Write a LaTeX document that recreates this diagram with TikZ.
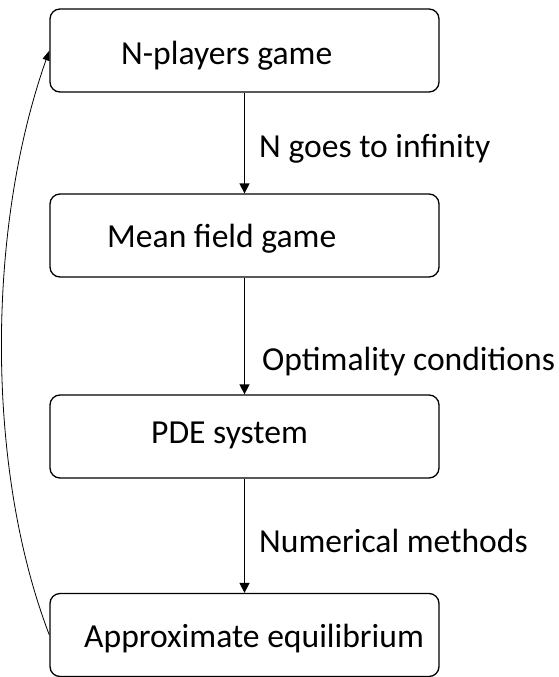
\documentclass[tikz,border=0pt]{standalone}
\usepackage{fontspec}
\setmainfont{Carlito}
\usetikzlibrary{arrows.meta}
\begin{document}
\begin{tikzpicture}[x=1pt,y=-1pt,
  box/.style={draw=black, line width=1.3pt, rounded corners=10pt, minimum width=389pt, minimum height=83pt, inner sep=0pt},
  txt/.style={anchor=base west, inner sep=0pt, font=\fontsize{33.6}{40}\selectfont},
  flow/.style={line width=1.5pt, -{Triangle[length=10pt,width=10pt]}},
  back/.style={line width=0.8pt, -{Triangle[length=10pt,width=7pt]}}]
\useasboundingbox (0,0) rectangle (559,677);
\node[box] (b1) at (244.5,50.5) {};
\node[box] (b2) at (244.5,235.5) {};
\node[box] (b3) at (244.5,436.5) {};
\node[box] (b4) at (244.5,635) {};
\node[txt] (t1) at (121,65) {N-players game};
\node[txt] (t2) at (107,247) {Mean field game};
\node[txt] (t3) at (151,443) {PDE system};
\node[txt] (t4) at (84,647) {Approximate equilibrium};
\draw[flow] (b1.south) -- (b2.north);
\draw[flow] (b2.south) -- (b3.north);
\draw[flow] (b3.south) -- (b4.north);
\node[txt] (l1) at (259,157) {N goes to infinity};
\node[txt] (l2) at (262,370) {Optimality conditions};
\node[txt] (l3) at (259,552) {Numerical methods};
\draw[back] (b4.west) .. controls (-14,470) and (-14,230) .. (b1.west);
\end{tikzpicture}
\end{document}
